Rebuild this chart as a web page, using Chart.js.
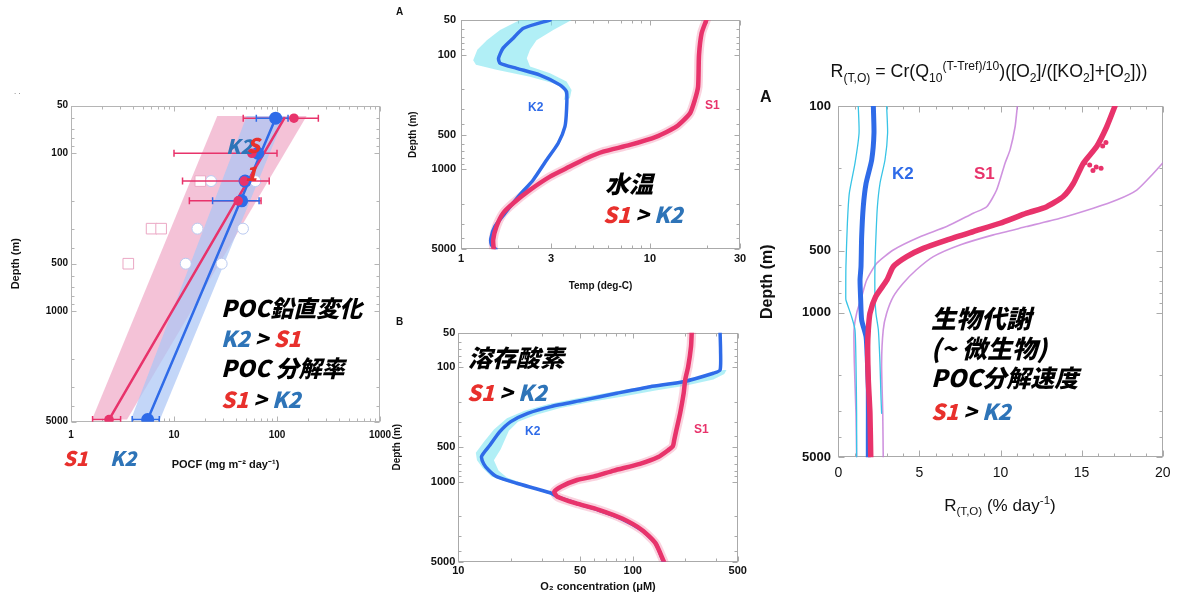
<!DOCTYPE html>
<html><head><meta charset="utf-8">
<title>POC flux, temperature, oxygen and remineralisation rate</title>
<script src="https://cdn.jsdelivr.net/npm/chart.js@4.4.1/dist/chart.umd.min.js"></script>
<style>
html,body{margin:0;padding:0;background:#fff}
body{width:1186px;height:600px;position:relative;overflow:hidden;font-family:"Liberation Sans",Arial,sans-serif}
canvas{position:absolute}
.t{position:absolute;white-space:nowrap;line-height:1;transform:translateY(-50%)}
.c{transform:translate(-50%,-50%)}
.j{font-family:"Noto Sans CJK JP",sans-serif;font-weight:900;font-style:italic;color:#000}
.f{font-family:"Liberation Sans",Arial,sans-serif;color:#111}
.bd{font-weight:700}
.r{color:#E8302C}.b{color:#2E74B8}.k{color:#000}
.lb{color:#2F6BE8}.lr{color:#E8336B}
sub,sup{font-size:0.68em;line-height:0}
</style></head><body>
<canvas id="c1" width="400" height="430" style="left:0;top:60px"></canvas>
<canvas id="c2" width="360" height="300" style="left:390px;top:0"></canvas>
<canvas id="c3" width="360" height="300" style="left:390px;top:300px"></canvas>
<canvas id="c4" width="436" height="470" style="left:750px;top:60px"></canvas>

<!-- panel 1 annotations -->
<div class="t f" style="left:14px;top:92px;font-size:8px;color:#555">. .</div>
<div class="t j b" style="left:226px;top:146px;font-size:20px">K2</div>
<div class="t j r" style="left:247px;top:145px;font-size:20px">S</div>
<div class="t j r" style="left:245px;top:173px;font-size:20px">1</div>
<div class="t j" style="left:221px;top:307px;font-size:23px">POC鉛直変化</div>
<div class="t j" style="left:221px;top:337px;font-size:22px"><span class="b">K2</span> <span class="k">&gt;</span> <span class="r">S1</span></div>
<div class="t j" style="left:221px;top:367px;font-size:23px">POC 分解率</div>
<div class="t j" style="left:221px;top:398px;font-size:22px"><span class="r">S1</span> <span class="k">&gt;</span> <span class="b">K2</span></div>
<div class="t j r" style="left:63px;top:458px;font-size:20px">S1</div>
<div class="t j b" style="left:110px;top:458px;font-size:20px">K2</div>

<!-- panel 2 annotations -->
<div class="t f bd" style="left:396px;top:12px;font-size:10px">A</div>
<div class="t f bd lb" style="left:528px;top:107px;font-size:12px">K2</div>
<div class="t f bd lr" style="left:705px;top:105px;font-size:12px">S1</div>
<div class="t j" style="left:605px;top:183px;font-size:24px">水温</div>
<div class="t j" style="left:603px;top:213px;font-size:22px"><span class="r">S1</span> <span class="k">&gt;</span> <span class="b">K2</span></div>

<!-- panel 3 annotations -->
<div class="t f bd" style="left:396px;top:322px;font-size:10px">B</div>
<div class="t j" style="left:468px;top:357px;font-size:24px">溶存酸素</div>
<div class="t j" style="left:467px;top:391px;font-size:22px"><span class="r">S1</span> <span class="k">&gt;</span> <span class="b">K2</span></div>
<div class="t f bd lb" style="left:525px;top:431px;font-size:12px">K2</div>
<div class="t f bd lr" style="left:694px;top:429px;font-size:12px">S1</div>

<!-- panel 4 annotations -->
<div class="t f c" style="left:989px;top:72px;font-size:17.8px">R<sub>(T,O)</sub> = Cr(Q<sub>10</sub><sup>(T-Tref)/10</sup>)([O<sub>2</sub>]/([KO<sub>2</sub>]+[O<sub>2</sub>]))</div>
<div class="t f bd" style="left:760px;top:97px;font-size:16px">A</div>
<div class="t f bd lb" style="left:892px;top:173px;font-size:17px">K2</div>
<div class="t f bd lr" style="left:974px;top:173px;font-size:17px">S1</div>
<div class="t j" style="left:931px;top:317px;font-size:25px">生物代謝</div>
<div class="t j" style="left:931px;top:347px;font-size:25px">(~ 微生物)</div>
<div class="t j" style="left:931px;top:377px;font-size:24px">POC分解速度</div>
<div class="t j" style="left:931px;top:410px;font-size:22px"><span class="r">S1</span> <span class="k">&gt;</span> <span class="b">K2</span></div>
<div class="t f c" style="left:1000px;top:505px;font-size:17px">R<sub>(T,O)</sub> (% day<sup>-1</sup>)</div>

<script>
// ================= DATA =================
// Panel 1: POC flux (mg m-2 day-1) vs depth (m)
const pocDepth = [60, 100, 150, 200, 4850];
const pocK2 = [97, 65, 49, 45.4, 5.55];
const pocS1 = [146, 57, 48, 42, 2.34];
const pocS1Lo = [47, 10, 12.1, 14.1, 1.62];
const pocS1Hi = [252, 100, 84, 70, 3.03];
const pocK2Lo = [63, null, null, 23.7, 3.93];
const pocK2Hi = [128, null, null, 67, 7.2];
const fitDepth = [60, 4850];
const fitS1 = [118, 2.34];
const fitK2 = [97, 5.55];
const bandDepth = [58, 4850];
const bandS1Lo = [26.3, 1.60];
const bandS1Hi = [194, 3.5];
const bandK2Lo = [50.8, 3.82];
const bandK2Hi = [119.6, 7.31];
const otherCircDepth = [150, 150, 300, 300, 500, 500];
const otherCirc = [22.9, 61.6, 16.9, 46.7, 13.0, 29.0];
const otherSqDepth = [150, 300, 300, 500];
const otherSq = [18.0, 6.06, 7.5, 3.6];
const pocXLabels = [1, 10, 100, 1000];
const pocYLabels = [50, 100, 500, 1000, 5000];

// Panel 2: temperature (deg-C)
const tK2Depth = [50, 59, 72, 88, 108, 119, 132, 151, 184, 211, 305, 426, 594, 831, 1242, 1735, 2424, 3173, 4001, 4579, 5000];
const tK2 = [2.96, 2.14, 1.89, 1.67, 1.58, 1.61, 1.97, 2.62, 3.34, 3.62, 3.62, 3.55, 3.27, 2.84, 2.41, 2.01, 1.71, 1.51, 1.44, 1.45, 1.53];
const tS1Depth = [50, 65, 101, 190, 249, 326, 426, 520, 615, 703, 803, 950, 1161, 1517, 1982, 2424, 3173, 4140, 5000];
const tS1 = [19.9, 18.8, 18.2, 18.0, 17.3, 16.3, 13.8, 10.85, 7.84, 5.66, 4.62, 3.77, 2.96, 2.32, 1.89, 1.67, 1.54, 1.48, 1.49];
const tK2EnvLoDepth = [50, 61, 75, 91, 112, 123, 136, 156, 178, 197, 225, 249];
const tK2EnvLo = [2.05, 1.61, 1.37, 1.22, 1.16, 1.20, 1.54, 2.32, 3.08, 3.48, 3.55, 3.5];
const tK2EnvHiDepth = [50, 61, 75, 91, 108, 127, 146, 172, 204, 241, 249];
const tK2EnvHi = [3.85, 3.08, 2.51, 2.32, 2.23, 2.32, 2.96, 3.62, 3.85, 3.77, 3.5];
const tXLabels = [1, 3, 10, 30];
const depthLabels = [50, 100, 500, 1000, 5000];

// Panel 3: dissolved oxygen (uM)
const oK2Depth = [50, 71, 106, 113, 134, 148, 169, 194, 221, 253, 299, 366, 478, 600, 700, 800, 905, 1033, 1250, 1353, 1540, 1760, 2100, 2640, 3440, 5000];
const oK2 = [317, 319, 317, 290, 195, 126, 81, 52, 34, 25, 20, 17.3, 15.2, 13.6, 14.0, 15.0, 16.6, 21.6, 33.6, 37, 47, 63, 86, 112, 135, 150];
const oS1Depth = [50, 66, 99, 129, 169, 253, 354, 433, 490, 530, 610, 700, 800, 900, 967, 1100, 1224, 1353, 1540, 1760, 2100, 2640, 3440, 5000];
const oS1 = [218, 216, 208, 200, 196, 187, 178, 173, 170, 160, 140, 110, 78, 60, 48, 39, 35.5, 37, 47, 64, 87, 113, 135, 151];
const oK2EnvLoDepth = [106, 113, 128, 143, 162, 185, 210, 240, 280, 350, 450, 560, 650, 760, 900, 1030, 1200, 1300];
const oK2EnvLo = [330, 300, 210, 130, 80, 50, 33, 24, 19, 16, 14, 12.6, 12.8, 13.8, 15.5, 20, 29, 34];
const oK2EnvHiDepth = [106, 115, 128, 145, 160, 180, 200, 228, 260, 300, 360, 430, 520, 650, 800, 920, 1050, 1180, 1300];
const oK2EnvHi = [345, 335, 290, 200, 135, 88, 58, 38, 28, 22, 19.5, 18.5, 17.5, 16, 17, 19, 24, 30, 38];
const oXTickVals = [10, 50, 100, 400];
const oXTickText = ['10', '50', '100', '500'];   // end label as printed in the original

// Panel 4: R(T,O) (% day-1)
const rK2Depth = [100, 135, 182, 237, 307, 429, 598, 694, 867, 1084, 1306, 1691, 2363, 3899, 5000];
const rK2 = [2.16, 2.20, 2.06, 1.71, 1.54, 1.44, 1.40, 1.34, 1.38, 1.44, 1.71, 1.79, 1.85, 1.85, 1.85];
const rS1Depth = [100, 126, 157, 189, 237, 274, 307, 330, 369, 405, 445, 488, 535, 598, 694, 836, 1006, 1211, 1458, 2114, 3064, 5000];
const rS1 = [17.06, 16.55, 15.93, 15.11, 14.49, 13.87, 12.85, 11.61, 9.97, 8.32, 6.68, 5.24, 4.22, 3.39, 3.0, 2.3, 1.95, 1.85, 1.81, 1.85, 1.95, 2.0];
const rS1LoDepth = [100, 126, 163, 189, 255, 307, 330, 383, 429, 497, 576, 694, 836, 1006, 1211, 1755, 3064, 5000];
const rS1Lo = [11.04, 10.9, 10.59, 10.28, 9.76, 9.15, 8.32, 6.68, 5.04, 3.39, 2.37, 1.75, 1.44, 1.13, 0.97, 0.99, 1.09, 1.13];
const rS1HiDepth = [185, 212, 255, 285, 312, 349, 383, 420, 470, 535, 621, 720, 836, 1006, 1211, 1755, 3064, 5000];
const rS1Hi = [20.1, 19.42, 18.4, 17.16, 15.72, 13.67, 11.61, 9.56, 7.5, 5.86, 4.8, 4.0, 3.39, 2.98, 2.77, 2.67, 2.74, 2.77];
const rK2LoDepth = [100, 135, 189, 264, 369, 598, 836, 867, 1045, 1211, 1755, 3064, 5000];
const rK2Lo = [1.23, 1.28, 1.03, 0.68, 0.56, 0.47, 0.46, 0.47, 0.82, 1.03, 1.09, 1.13, 1.13];
const rK2HiDepth = [100, 135, 182, 237, 307, 429, 598, 836, 1006, 1211, 1755, 2546, 3064];
const rK2Hi = [2.98, 3.04, 2.88, 2.57, 2.41, 2.32, 2.26, 2.26, 2.32, 2.47, 2.57, 2.63, 2.67];
const rS1DotDepth = [150, 156, 188, 193, 197, 200, 205];
const rS1Dot = [16.5, 16.3, 15.2, 15.5, 15.9, 16.2, 15.7];
const rXLabels = [0, 5, 10, 15, 20];
const rYLabels = [100, 500, 1000, 5000];

// ================= HELPERS =================
const FONT = '"Liberation Sans", Arial, sans-serif';
const RED = '#E8336B', BLUE = '#2F6BE8';
const pts = (xs, ys) => xs.map((v, i) => ({x: v, y: ys[i]}));
const poly = (dl, vl, dr, vr) => pts(vl, dl).concat(pts(vr, dr).reverse());
function errSegs(depths, lo, hi) {
  const out = [];
  depths.forEach((d, i) => { if (lo[i] == null) return; out.push({x: lo[i], y: d}, {x: hi[i], y: d}, {x: NaN, y: NaN}); });
  return out;
}
function logTicks(min, max) {
  const t = [];
  for (let e = Math.floor(Math.log10(min)); Math.pow(10, e) <= max; e++)
    for (let s = 1; s <= 9; s++) {
      const v = +(s * Math.pow(10, e)).toPrecision(8);
      if (v >= min * 0.999999 && v <= max * 1.000001) t.push(v);
    }
  return t;
}
function linTicks(min, max, step) { const t = []; for (let v = min; v <= max + 1e-9; v += step) t.push(v); return t; }

function mkAxis(o) {
  return {
    type: o.type || 'logarithmic', min: o.min, max: o.max, reverse: !!o.reverse,
    position: o.isX ? 'bottom' : 'left',
    grid: {display: false, drawTicks: false}, border: {display: false},
    afterBuildTicks: s => { s.ticks = o.tickVals.map(v => ({value: v})); },
    ticks: {
      autoSkip: false, maxRotation: 0, minRotation: 0, padding: o.pad, color: '#111', font: o.font,
      callback: v => {
        const i = o.labelVals.findIndex(l => Math.abs(l - v) <= 1e-6 * Math.max(1, Math.abs(l)));
        return i < 0 ? '' : (o.labelText ? o.labelText[i] : String(o.labelVals[i]));
      }
    },
    title: o.title || {display: false},
    afterFit: s => { if (o.isX) s.height = o.fit; else s.width = o.fit; }
  };
}

const framePlugin = {
  id: 'frame',
  beforeDatasetsDraw(chart, args, opts) {
    const {ctx, chartArea: a} = chart;
    ctx.save();
    ctx.strokeStyle = opts.color || '#999';
    ctx.lineWidth = 1;
    const L = Math.round(a.left) + 0.5, R = Math.round(a.right) - 0.5, T = Math.round(a.top) + 0.5, B = Math.round(a.bottom) - 0.5;
    ctx.strokeRect(L, T, R - L, B - T);
    ctx.beginPath();
    const xs = chart.scales.x, ys = chart.scales.y;
    xs.ticks.forEach(t => {
      const p = Math.round(xs.getPixelForValue(t.value)) + 0.5;
      const len = t.label ? opts.major : opts.minor;
      ctx.moveTo(p, B); ctx.lineTo(p, B - len); ctx.moveTo(p, T); ctx.lineTo(p, T + len);
    });
    ys.ticks.forEach(t => {
      const p = Math.round(ys.getPixelForValue(t.value)) + 0.5;
      const len = t.label ? opts.major : opts.minor;
      ctx.moveTo(L, p); ctx.lineTo(L + len, p); ctx.moveTo(R, p); ctx.lineTo(R - len, p);
    });
    ctx.stroke();
    ctx.restore();
  }
};

const line = (data, color, width, extra) => Object.assign({data, showLine: true, borderColor: color, backgroundColor: color,
  borderWidth: width, pointRadius: 0, tension: 0.2, fill: false, borderCapStyle: 'round', borderJoinStyle: 'round'}, extra || {});
const band = (data, color) => ({data, showLine: true, borderWidth: 0, borderColor: 'rgba(0,0,0,0)', backgroundColor: color,
  pointRadius: 0, fill: 'shape', tension: 0});
const dots = (data, color, r, extra) => Object.assign({data, showLine: false, pointRadius: r, backgroundColor: color,
  borderColor: color, pointBorderWidth: 0}, extra || {});
const ordered = list => list.map((d, i) => Object.assign(d, {order: list.length - i}));

function mkChart(id, datasets, pad, xAxis, yAxis, frame) {
  return new Chart(document.getElementById(id), {
    type: 'scatter',
    data: {datasets: ordered(datasets)},
    options: {
      responsive: false, animation: false, events: [],
      layout: {padding: pad},
      plugins: {legend: {display: false}, tooltip: {enabled: false}, frame},
      scales: {x: xAxis, y: yAxis}
    },
    plugins: [framePlugin]
  });
}
const bold = (size) => ({family: FONT, size, weight: 'bold'});

// ================= PANEL 1 =================
mkChart('c1', [
  band(poly(bandDepth, bandS1Lo, bandDepth, bandS1Hi), 'rgba(240,170,200,0.72)'),
  band(poly(bandDepth, bandK2Lo, bandDepth, bandK2Hi), 'rgba(172,198,245,0.72)'),
  dots(pts(otherCirc, otherCircDepth), '#fff', 5.5, {borderColor: '#b9c9f0', pointBorderWidth: 1}),
  dots(pts(otherSq, otherSqDepth), '#fff', 7.5, {pointStyle: 'rect', borderColor: '#eba7c4', pointBorderWidth: 1}),
  line(errSegs(pocDepth, pocS1Lo, pocS1Hi), RED, 1.5, {tension: 0, pointStyle: 'line', rotation: 90, pointRadius: 3.5, pointBorderWidth: 1.5, borderCapStyle: 'butt'}),
  line(errSegs(pocDepth, pocK2Lo, pocK2Hi), BLUE, 1.5, {tension: 0, pointStyle: 'line', rotation: 90, pointRadius: 3.5, pointBorderWidth: 1.5, borderCapStyle: 'butt'}),
  line(pts(fitK2, fitDepth), BLUE, 2.5, {tension: 0}),
  line(pts(fitS1, fitDepth), RED, 2.5, {tension: 0}),
  dots(pts(pocK2, pocDepth), BLUE, 6.5),
  dots(pts(pocS1, pocDepth), RED, 4.8)
], {left: 0, top: 45.7, right: 20, bottom: 0},
  mkAxis({isX: true, min: 1, max: 1000, tickVals: logTicks(1, 1000), labelVals: pocXLabels, pad: 8, font: bold(10), fit: 68.3,
    title: {display: true, text: 'POCF (mg m⁻² day⁻¹)', color: '#111', font: bold(11), padding: {top: 0, bottom: 18.8}}}),
  mkAxis({min: 50, max: 5000, reverse: true, tickVals: logTicks(50, 5000), labelVals: pocYLabels, pad: 3, font: bold(10), fit: 71,
    title: {display: true, text: 'Depth (m)', color: '#111', font: bold(11), padding: {top: 9.4, bottom: 0}}}),
  {color: '#b5b5b5', major: 5, minor: 3});

// ================= PANEL 2 =================
mkChart('c2', [
  band(poly(tK2EnvLoDepth, tK2EnvLo, tK2EnvHiDepth, tK2EnvHi), 'rgba(125,228,240,0.6)'),
  line(pts(tS1, tS1Depth), 'rgba(232,51,107,0.22)', 9),
  line(pts(tK2, tK2Depth), BLUE, 3.5),
  line(pts(tS1, tS1Depth), RED, 4.5)
], {left: 0, top: 20, right: 10, bottom: 0},
  mkAxis({isX: true, min: 1, max: 30, tickVals: logTicks(1, 30), labelVals: tXLabels, pad: 3, font: bold(11), fit: 50.7,
    title: {display: true, text: 'Temp (deg-C)', color: '#111', font: bold(10), padding: {top: 0, bottom: 7.7}}}),
  mkAxis({min: 50, max: 5000, reverse: true, tickVals: logTicks(50, 5000), labelVals: depthLabels, pad: 5, font: bold(11), fit: 71,
    title: {display: true, text: 'Depth (m)', color: '#111', font: bold(10), padding: {top: 17, bottom: 0}}}),
  {color: '#aaa', major: 5, minor: 3});

// ================= PANEL 3 =================
mkChart('c3', [
  band(poly(oK2EnvLoDepth, oK2EnvLo, oK2EnvHiDepth, oK2EnvHi), 'rgba(125,228,240,0.6)'),
  line(pts(oS1, oS1Depth), 'rgba(232,51,107,0.22)', 9),
  line(pts(oK2, oK2Depth), BLUE, 3.5),
  line(pts(oS1, oS1Depth), RED, 4.5)
], {left: 0, top: 32.7, right: 12.3, bottom: 0},
  mkAxis({isX: true, min: 10, max: 400, tickVals: logTicks(10, 400), labelVals: oXTickVals, labelText: oXTickText, pad: 3, font: bold(11), fit: 38.3,
    title: {display: true, text: 'O₂ concentration (μM)', color: '#111', font: bold(11), padding: {top: 0, bottom: 6.1}}}),
  mkAxis({min: 50, max: 5000, reverse: true, tickVals: logTicks(50, 5000), labelVals: depthLabels, pad: 3, font: bold(11), fit: 68.3,
    title: {display: true, text: 'Depth (m)', color: '#111', font: bold(10), padding: {top: 1, bottom: 0}}}),
  {color: '#aaa', major: 5, minor: 3});

// ================= PANEL 4 =================
mkChart('c4', [
  line(pts(rS1Lo, rS1LoDepth), 'rgba(195,120,215,0.8)', 1.6),
  line(pts(rS1Hi, rS1HiDepth), 'rgba(195,120,215,0.8)', 1.6),
  line(pts(rK2Lo, rK2LoDepth), '#38C4E6', 1.3),
  line(pts(rK2Hi, rK2HiDepth), '#38C4E6', 1.3),
  line(pts(rK2, rK2Depth), BLUE, 5),
  line(pts(rS1, rS1Depth), RED, 5.5),
  dots(pts(rS1Dot, rS1DotDepth), RED, 2.5)
], {left: 0, top: 46, right: 23.3, bottom: 0},
  mkAxis({isX: true, type: 'linear', min: 0, max: 20, tickVals: linTicks(0, 20, 1), labelVals: rXLabels, pad: 7,
    font: {family: FONT, size: 14}, fit: 72.7}),
  mkAxis({min: 100, max: 5000, reverse: true, tickVals: logTicks(100, 5000), labelVals: rYLabels, pad: 7.3, font: bold(13), fit: 88.3,
    title: {display: true, text: 'Depth (m)', color: '#111', font: bold(16), padding: {top: 8.4, bottom: 0}}}),
  {color: '#aaa', major: 6, minor: 3});
</script>
</body></html>
